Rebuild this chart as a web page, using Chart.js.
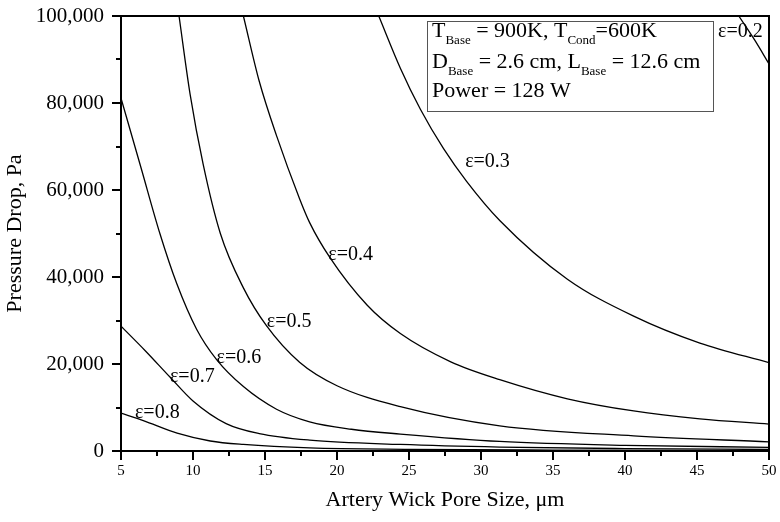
<!DOCTYPE html>
<html>
<head>
<meta charset="utf-8">
<script src="https://cdn.jsdelivr.net/npm/chart.js@4.4.1/dist/chart.umd.min.js"></script>
<style>
  html, body { margin: 0; padding: 0; background: #fff; }
</style>
</head>
<body>
<canvas id="chart" width="780" height="522"></canvas>
<script>
// =====================
// DATA
// =====================

const porosity = ["0.2", "0.3", "0.4", "0.5", "0.6", "0.7", "0.8"];

const pore02 = [47.9, 49.0, 50];
const drop02 = [100000, 94500, 89000];

const pore03 = [22.9, 24.4, 25.8, 27.4, 29.0, 31.3, 36.0, 40.6, 45.2, 50];
const drop03 = [100000, 88000, 78500, 69500, 62000, 53000, 39500, 31000, 24800, 20300];

const pore04 = [13.5, 14.6, 15.8, 17.4, 18.1, 19.5, 22.1, 24.4, 27.9, 31.3, 36.0, 40.6, 45.2, 50];
const drop04 = [100000, 85000, 72500, 58000, 52500, 44500, 33500, 27000, 20500, 16400, 12000, 9200, 7400, 6200];

const pore05 = [9.03, 9.8, 10.7, 11.9, 13.5, 15.1, 17.4, 20.0, 24.4, 31.3, 40.6, 50];
const drop05 = [100000, 82000, 66000, 50000, 37500, 28800, 20400, 15000, 10200, 5800, 3500, 2100];

const pore06 = [5, 6.4, 7.7, 8.87, 10.25, 11.64, 13.5, 15.8, 18.1, 21.0, 24.4, 31.3, 40, 50];
const drop06 = [81100, 65000, 50000, 38500, 28000, 21000, 14800, 9600, 6700, 5000, 3900, 2200, 1300, 850];

const pore07 = [5, 6.7, 8.4, 10.0, 12.3, 14.6, 18.1, 24.4, 31.3, 40, 50];
const drop07 = [28700, 23000, 17000, 11500, 6300, 4000, 2500, 1500, 900, 550, 350];

const pore08 = [5, 6.55, 8.9, 11.2, 13.5, 18.1, 25, 35, 50];
const drop08 = [8700, 7000, 4100, 2300, 1500, 700, 380, 220, 130];

const xTicks = [5, 10, 15, 20, 25, 30, 35, 40, 45, 50];
const yTicks = [0, 20000, 40000, 60000, 80000, 100000];

const series = [
  [pore02, drop02], [pore03, drop03], [pore04, drop04], [pore05, drop05],
  [pore06, drop06], [pore07, drop07], [pore08, drop08]
];

// label anchors (data coords, left edge / middle of text)
const curveLabels = [
  { eps: "0.2", x: 46.46, y: 96400 },
  { eps: "0.3", x: 28.9, y: 66400 },
  { eps: "0.4", x: 19.4, y: 45100 },
  { eps: "0.5", x: 15.12, y: 29700 },
  { eps: "0.6", x: 11.64, y: 21500 },
  { eps: "0.7", x: 8.4, y: 17100 },
  { eps: "0.8", x: 5.97, y: 8800 }
];

const SERIF = "'Liberation Serif', 'Times New Roman', serif";


// =====================
// PLUGINS
// =====================

// axis ticks: major + minor, drawn outward
const tickMarks = {
  id: "tickMarks",
  afterDraw(chart) {
    const { ctx, chartArea: a, scales: { x, y } } = chart;
    ctx.save();
    ctx.strokeStyle = "#000";
    ctx.lineWidth = 2;
    ctx.beginPath();
    for (let v = 0; v <= 100000; v += 10000) {
      const py = Math.round(y.getPixelForValue(v));
      const len = v % 20000 === 0 ? 9 : 5;
      ctx.moveTo(a.left - len, py);
      ctx.lineTo(a.left, py);
    }
    for (let v = 5; v <= 50; v += 2.5) {
      const px = Math.round(x.getPixelForValue(v));
      const len = v % 5 === 0 ? 9 : 5;
      ctx.moveTo(px, a.bottom);
      ctx.lineTo(px, a.bottom + len);
    }
    ctx.stroke();
    // frame
    ctx.strokeRect(a.left, a.top, a.right - a.left, a.bottom - a.top);
    ctx.restore();
  }
};

// epsilon labels next to the curves
const curveText = {
  id: "curveText",
  afterDatasetsDraw(chart) {
    const { ctx, scales: { x, y } } = chart;
    ctx.save();
    ctx.fillStyle = "#000";
    ctx.font = "20px " + SERIF;
    ctx.textBaseline = "middle";
    ctx.textAlign = "left";
    curveLabels.forEach(l => {
      ctx.fillText("\u03b5=" + l.eps, x.getPixelForValue(l.x), y.getPixelForValue(l.y));
    });
    ctx.restore();
  }
};

// info box with subscripts
const infoBox = {
  id: "infoBox",
  afterDraw(chart) {
    const { ctx } = chart;
    const lines = [
      [["T", 0], ["Base", 1], [" = 900K, T", 0], ["Cond", 1], ["=600K", 0]],
      [["D", 0], ["Base", 1], [" = 2.6 cm, L", 0], ["Base", 1], [" = 12.6 cm", 0]],
      [["Power = 128 W", 0]]
    ];
    const baselines = [37, 68, 97];
    ctx.save();
    ctx.fillStyle = "#fff";
    ctx.fillRect(427, 21, 287, 91);
    ctx.strokeStyle = "#555";
    ctx.lineWidth = 1;
    ctx.strokeRect(427.5, 21.5, 286, 90);
    ctx.fillStyle = "#000";
    ctx.textBaseline = "alphabetic";
    lines.forEach((parts, i) => {
      let px = 432;
      parts.forEach(([t, sub]) => {
        ctx.font = (sub ? "13px " : "22px ") + SERIF;
        ctx.fillText(t, px, baselines[i] + (sub ? 7 : 0));
        px += ctx.measureText(t).width;
      });
    });
    ctx.restore();
  }
};


// =====================
// CHART
// =====================

const datasets = series.map(([xs, ys], i) => ({
  label: "\u03b5=" + porosity[i],
  data: xs.map((v, j) => ({ x: v, y: ys[j] })),
  borderColor: "#000",
  borderWidth: 1.3,
  pointRadius: 0,
  fill: false,
  cubicInterpolationMode: "monotone"
}));

new Chart(document.getElementById("chart"), {
  type: "line",
  data: { datasets },
  options: {
    responsive: false,
    animation: false,
    layout: { padding: { top: 16, right: 11, left: 0, bottom: 0 } },
    plugins: { legend: { display: false }, tooltip: { enabled: false } },
    scales: {
      x: {
        type: "linear",
        min: 5,
        max: 50,
        afterBuildTicks: s => { s.ticks = xTicks.map(v => ({ value: v })); },
        afterFit: s => { s.height = 71; s.paddingLeft = 0; s.paddingRight = 0; },
        grid: { drawOnChartArea: false, drawTicks: false },
        border: { color: "#000", width: 2 },
        ticks: { color: "#000", padding: 11, maxRotation: 0, font: { family: SERIF, size: 15 } },
        title: {
          display: true,
          text: "Artery Wick Pore Size, \u03bcm",
          color: "#000",
          font: { family: SERIF, size: 22 },
          padding: { top: 0, bottom: 9 }
        }
      },
      y: {
        min: 0,
        max: 100000,
        afterBuildTicks: s => { s.ticks = yTicks.map(v => ({ value: v })); },
        afterFit: s => { s.width = 121; s.paddingTop = 0; s.paddingBottom = 0; },
        grid: { drawOnChartArea: false, drawTicks: false },
        border: { color: "#000", width: 2 },
        ticks: {
          color: "#000",
          padding: 17,
          font: { family: SERIF, size: 21 },
          callback: v => v.toLocaleString("en-US")
        },
        title: {
          display: true,
          text: "Pressure Drop, Pa",
          color: "#000",
          font: { family: SERIF, size: 22 },
          padding: { top: 2, bottom: 0 }
        }
      }
    }
  },
  plugins: [tickMarks, curveText, infoBox]
});
</script>
</body>
</html>
